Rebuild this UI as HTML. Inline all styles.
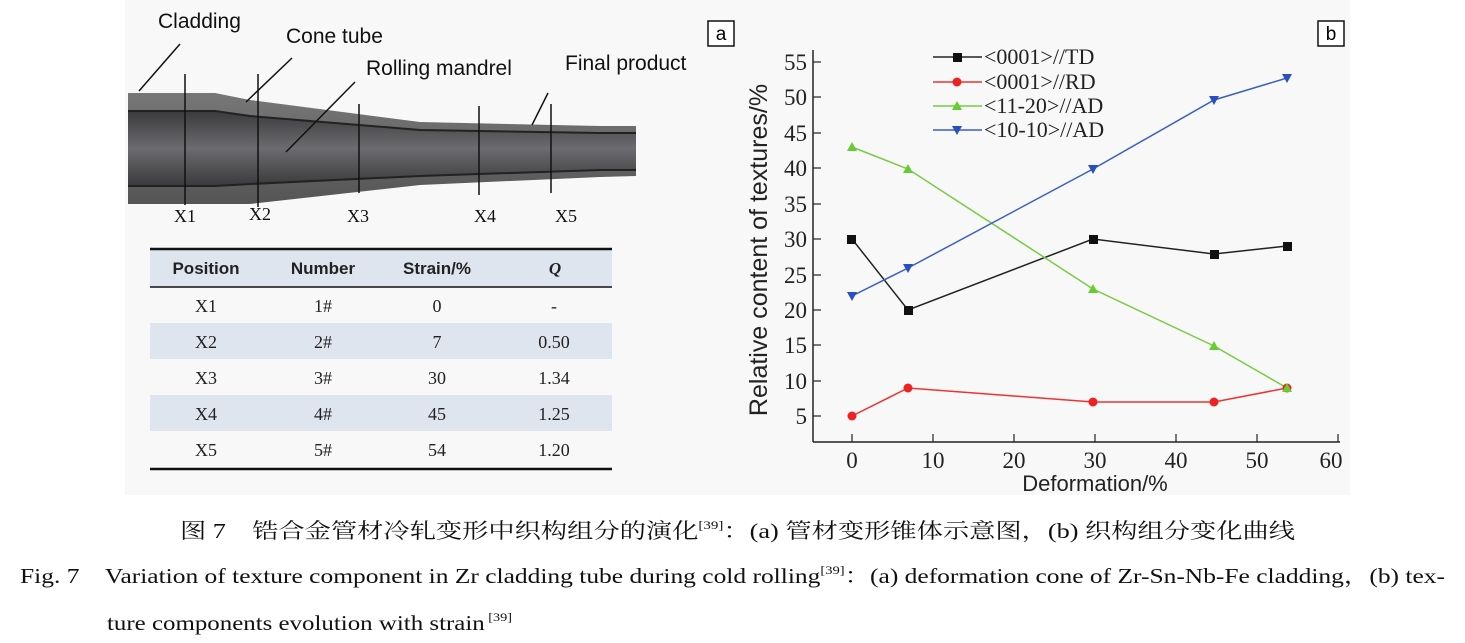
<!DOCTYPE html><html><head><meta charset="utf-8"><style>
body{margin:0;background:#fff;width:1465px;height:643px;overflow:hidden}
svg{display:block}
</style></head><body>
<svg width="1465" height="643" viewBox="0 0 1465 643" xmlns="http://www.w3.org/2000/svg">
<defs>
<linearGradient id="g1" x1="0" y1="0" x2="0" y2="1"><stop offset="0" stop-color="#777"/><stop offset="1" stop-color="#555"/></linearGradient>
<linearGradient id="g2" x1="0" y1="0" x2="0" y2="1"><stop offset="0" stop-color="#3a3a3c"/><stop offset="0.5" stop-color="#6c6c70"/><stop offset="1" stop-color="#3a3a3c"/></linearGradient>
</defs>
<rect x="125" y="0" width="1225" height="495" fill="#f8f8f8"/>
<path d="M128,93 L215,93 L250,100 L420,122 L600,126 L636,126 L636,176 L600,177 L420,185 L250,204 L215,204 L128,204 Z" fill="url(#g1)"/>
<path d="M128,111 L215,111 L250,116 L420,130 L600,133 L636,133 L636,170 L600,170 L420,176 L250,184 L215,186 L128,186 Z" fill="url(#g2)"/>
<path d="M128,111 L215,111 L250,116 L420,130 L600,133 L636,133" stroke="#222" stroke-width="2" fill="none"/>
<path d="M128,186 L215,186 L250,184 L420,176 L600,170 L636,170" stroke="#222" stroke-width="2" fill="none"/>
<g stroke="#111" stroke-width="1.5">
<line x1="185" y1="74" x2="185" y2="205"/><line x1="258" y1="74" x2="258" y2="207"/><line x1="359" y1="104" x2="359" y2="193"/><line x1="479" y1="106" x2="479" y2="195"/><line x1="551" y1="104" x2="551" y2="193"/>
<line x1="139" y1="91" x2="180" y2="44"/><line x1="246" y1="102" x2="292" y2="58"/><line x1="286" y1="152" x2="355" y2="82"/><line x1="532" y1="125" x2="548" y2="93"/>
</g>
<g font-family="Liberation Sans,sans-serif" font-size="21" fill="#111">
<text x="158" y="28">Cladding</text><text x="286" y="43">Cone tube</text><text x="366" y="75">Rolling mandrel</text><text x="565" y="70">Final product</text>
</g>
<g font-family="Liberation Serif,serif" font-size="18" fill="#111" text-anchor="middle">
<text x="185" y="222">X1</text><text x="260" y="220">X2</text><text x="358" y="222">X3</text><text x="485" y="222">X4</text><text x="566" y="222">X5</text>
</g>
<rect x="708" y="21" width="26" height="25" fill="#fff" stroke="#111" stroke-width="1.5"/>
<text x="721" y="40" font-family="Liberation Sans,sans-serif" font-size="19" text-anchor="middle">a</text>
<rect x="150" y="249" width="462" height="38" fill="#dfe5ee"/>
<rect x="150" y="323" width="462" height="36" fill="#dfe5ee"/>
<rect x="150" y="395" width="462" height="36" fill="#dfe5ee"/>
<line x1="150" y1="249" x2="612" y2="249" stroke="#111" stroke-width="2.5"/>
<line x1="150" y1="287" x2="612" y2="287" stroke="#111" stroke-width="1.5"/>
<line x1="150" y1="469" x2="612" y2="469" stroke="#111" stroke-width="2.5"/>
<g font-family="Liberation Sans,sans-serif" font-size="17" font-weight="bold" fill="#222" text-anchor="middle">
<text x="206" y="274">Position</text><text x="323" y="274">Number</text><text x="437" y="274">Strain/%</text><text x="555" y="274" font-family="Liberation Serif,serif" font-style="italic">Q</text>
</g>
<g font-family="Liberation Serif,serif" font-size="18" fill="#222" text-anchor="middle">
<text x="206" y="312">X1</text><text x="323" y="312">1#</text><text x="437" y="312">0</text><text x="554" y="312">-</text>
<text x="206" y="348">X2</text><text x="323" y="348">2#</text><text x="437" y="348">7</text><text x="554" y="348">0.50</text>
<text x="206" y="384">X3</text><text x="323" y="384">3#</text><text x="437" y="384">30</text><text x="554" y="384">1.34</text>
<text x="206" y="420">X4</text><text x="323" y="420">4#</text><text x="437" y="420">45</text><text x="554" y="420">1.25</text>
<text x="206" y="456">X5</text><text x="323" y="456">5#</text><text x="437" y="456">54</text><text x="554" y="456">1.20</text>
</g>
<rect x="1318" y="21" width="26" height="25" fill="#fff" stroke="#111" stroke-width="1.5"/>
<text x="1331" y="40" font-family="Liberation Sans,sans-serif" font-size="19" text-anchor="middle">b</text>
<g stroke="#222" stroke-width="1.5" fill="none">
<line x1="813" y1="50" x2="813" y2="442"/><line x1="813" y1="442" x2="1340" y2="442"/>
</g>
<g stroke="#222" stroke-width="1.2">
<line x1="813" y1="62" x2="821" y2="62"/><line x1="813" y1="97" x2="821" y2="97"/><line x1="813" y1="133" x2="821" y2="133"/><line x1="813" y1="168" x2="821" y2="168"/><line x1="813" y1="204" x2="821" y2="204"/><line x1="813" y1="239" x2="821" y2="239"/><line x1="813" y1="275" x2="821" y2="275"/><line x1="813" y1="310" x2="821" y2="310"/><line x1="813" y1="345" x2="821" y2="345"/><line x1="813" y1="381" x2="821" y2="381"/><line x1="813" y1="416" x2="821" y2="416"/>
<line x1="852" y1="442" x2="852" y2="434"/><line x1="933" y1="442" x2="933" y2="434"/><line x1="1014" y1="442" x2="1014" y2="434"/><line x1="1095" y1="442" x2="1095" y2="434"/><line x1="1176" y1="442" x2="1176" y2="434"/><line x1="1257" y1="442" x2="1257" y2="434"/><line x1="1338" y1="442" x2="1338" y2="434"/>
</g>
<g font-family="Liberation Serif,serif" font-size="23" fill="#222" text-anchor="end">
<text x="807" y="70">55</text><text x="807" y="105">50</text><text x="807" y="141">45</text><text x="807" y="176">40</text><text x="807" y="212">35</text><text x="807" y="247">30</text><text x="807" y="283">25</text><text x="807" y="318">20</text><text x="807" y="353">15</text><text x="807" y="389">10</text><text x="807" y="424">5</text>
</g>
<g font-family="Liberation Serif,serif" font-size="23" fill="#222" text-anchor="middle">
<text x="852" y="468">0</text><text x="933" y="468">10</text><text x="1014" y="468">20</text><text x="1095" y="468">30</text><text x="1176" y="468">40</text><text x="1257" y="468">50</text><text x="1331" y="468">60</text>
</g>
<text x="1095" y="491" font-family="Liberation Sans,sans-serif" font-size="22" text-anchor="middle" fill="#222">Deformation/%</text>
<text transform="translate(767,250) rotate(-90)" font-family="Liberation Sans,sans-serif" font-size="25" text-anchor="middle" fill="#222">Relative content of textures/%</text>
<polyline points="852,239 908,310 1093,239 1214,254 1287,246" fill="none" stroke="#222" stroke-width="1.5"/>
<polyline points="852,416 908,388 1093,402 1214,402 1287,388" fill="none" stroke="#e33" stroke-width="1.5"/>
<polyline points="852,147 908,169 1093,289 1214,346 1287,388" fill="none" stroke="#7c4" stroke-width="1.5"/>
<polyline points="852,296 908,268 1093,169 1214,100 1287,78" fill="none" stroke="#3a5fc0" stroke-width="1.5"/>
<g fill="#111"><rect x="847" y="235" width="9" height="9"/><rect x="904" y="306" width="9" height="9"/><rect x="1089" y="235" width="9" height="9"/><rect x="1210" y="250" width="9" height="9"/><rect x="1283" y="242" width="9" height="9"/></g>
<g fill="#e22"><circle cx="852" cy="416" r="4.5"/><circle cx="908" cy="388" r="4.5"/><circle cx="1093" cy="402" r="4.5"/><circle cx="1214" cy="402" r="4.5"/><circle cx="1287" cy="388" r="4.5"/></g>
<g fill="#6c3"><path d="M852,142 l5,9 h-10z"/><path d="M908,164 l5,9 h-10z"/><path d="M1093,284 l5,9 h-10z"/><path d="M1214,341 l5,9 h-10z"/><path d="M1287,383 l5,9 h-10z"/></g>
<g fill="#2a4fc0"><path d="M852,301 l5,-9 h-10z"/><path d="M908,273 l5,-9 h-10z"/><path d="M1093,174 l5,-9 h-10z"/><path d="M1214,105 l5,-9 h-10z"/><path d="M1287,83 l5,-9 h-10z"/></g>
<g stroke-width="1.5">
<line x1="933" y1="57" x2="982" y2="57" stroke="#222"/><rect x="953" y="53" width="9" height="9" fill="#111"/>
<line x1="933" y1="82" x2="982" y2="82" stroke="#e33"/><circle cx="957" cy="82" r="4.5" fill="#e22"/>
<line x1="933" y1="106" x2="982" y2="106" stroke="#7c4"/><path d="M957,101 l5,9 h-10z" fill="#6c3"/>
<line x1="933" y1="130" x2="982" y2="130" stroke="#3a5fc0"/><path d="M957,135 l5,-9 h-10z" fill="#2a4fc0"/>
</g>
<g font-family="Liberation Serif,serif" font-size="22" fill="#222">
<text x="984" y="64">&lt;0001&gt;//TD</text><text x="984" y="89">&lt;0001&gt;//RD</text><text x="984" y="113">&lt;11-20&gt;//AD</text><text x="984" y="137">&lt;10-10&gt;//AD</text>
</g>
<g font-family="Liberation Serif,'Noto Serif CJK SC',serif" fill="#111">
<text x="180" y="538" font-size="21" textLength="1115" lengthAdjust="spacingAndGlyphs">图 7　锆合金管材冷轧变形中织构组分的演化<tspan font-size="12" dy="-9">[39]</tspan><tspan dy="9">：(a) 管材变形锥体示意图，(b) 织构组分变化曲线</tspan></text>
<text x="20" y="583" font-size="21" textLength="1425" lengthAdjust="spacingAndGlyphs">Fig. 7　Variation of texture component in Zr cladding tube during cold rolling<tspan font-size="12" dy="-9">[39]</tspan><tspan dy="9">：(a) deformation cone of Zr-Sn-Nb-Fe cladding，(b) tex-</tspan></text>
<text x="107" y="630" font-size="21" textLength="405" lengthAdjust="spacingAndGlyphs">ture components evolution with strain<tspan font-size="12" dy="-9"> [39]</tspan></text>
</g>
</svg>
</body></html>
